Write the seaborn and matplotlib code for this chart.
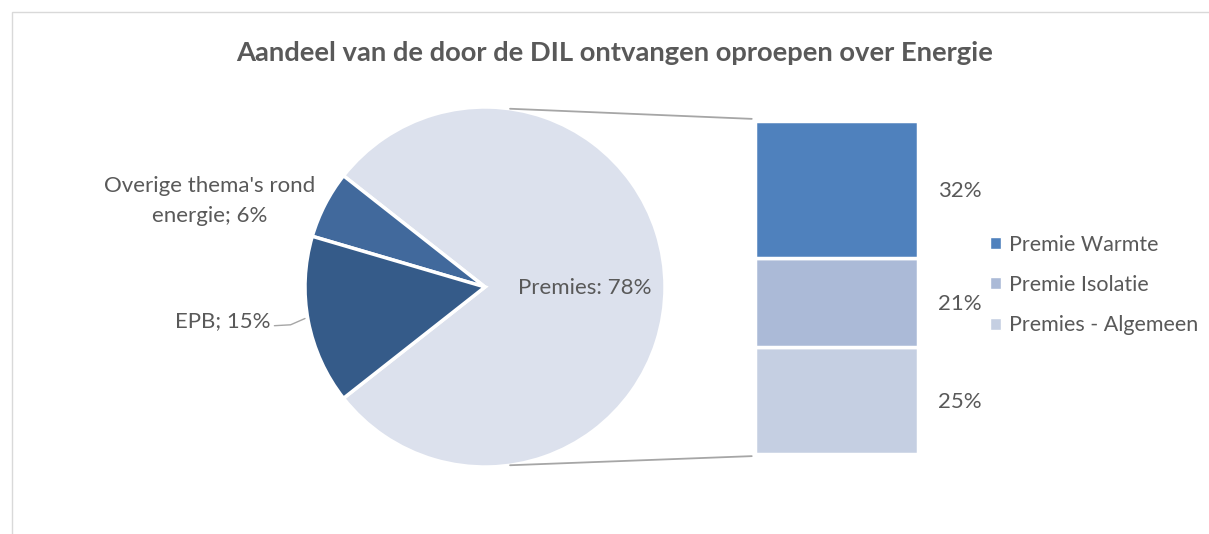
import numpy as np
import matplotlib
matplotlib.use("Agg")
import matplotlib.pyplot as plt
from matplotlib.patches import ConnectionPatch, Patch, Rectangle
import seaborn as sns

# data
pie_labels = ["Premies", "Overige thema's rond\nenergie", "EPB"]
pie_values = [78, 6, 15]
pie_colors = ["#DCE1ED", "#41699C", "#355B89"]

bar_labels = ["Premies - Algemeen", "Premie Isolatie", "Premie Warmte"]  # bottom -> top
bar_values = [25, 21, 32]
bar_colors = ["#C5CFE2", "#ABBAD7", "#4F81BD"]

title = "Aandeel van de door de DIL ontvangen oproepen over Energie"

sns.set_theme(style="white")
plt.rcParams["font.family"] = ["Lato", "DejaVu Sans"]
txt = "#595959"
fs = 16

W, H = 1209, 534
fig = plt.figure(figsize=(W / 100, H / 100), dpi=100)

# chart frame (top and left border visible)
fig.patches.append(Rectangle((12 / W, -0.2), 1.2, (H - 12) / H + 0.2,
                             transform=fig.transFigure, fill=False,
                             edgecolor="#D9D9D9", linewidth=1))

fig.text(615 / W, 1 - 53 / H, title, ha="center", va="center",
         fontsize=19.7, fontweight="bold", color=txt)

# pie
cx, cy, r = 485, H - 287, 180
ax_pie = fig.add_axes([(cx - r) / W, (cy - r) / H, 2 * r / W, 2 * r / H])
start = -360 * pie_values[0] / sum(pie_values) / 2
wedges, _ = ax_pie.pie(pie_values, colors=pie_colors, startangle=start,
                       counterclock=True, radius=1,
                       wedgeprops=dict(edgecolor="white", linewidth=2.5))
ax_pie.set_xlim(-1, 1)
ax_pie.set_ylim(-1, 1)
ax_pie.set_aspect("auto")
ax_pie.axis("off")

ax_pie.text(0.555, -0.005, f"{pie_labels[0]}: {pie_values[0]}%", ha="center",
            va="center", fontsize=fs, color=txt)
ax_pie.text(-1.53, 0.48, f"{pie_labels[1]}; {pie_values[1]}%", ha="center",
            va="center", fontsize=fs, color=txt, linespacing=1.62)
ax_pie.text(-1.19, -0.19, f"{pie_labels[2]}; {pie_values[2]}%", ha="right",
            va="center", fontsize=fs, color=txt)
ax_pie.plot([-1.17, -1.08, -1.0], [-0.215, -0.21, -0.175], color="#A6A6A6",
            linewidth=1, clip_on=False)

# stacked bar
bx0, bx1, by0, by1 = 755, 918, H - 454, H - 121
ax_bar = fig.add_axes([bx0 / W, by0 / H, (bx1 - bx0) / W, (by1 - by0) / H])
bottom = 0
for lab, val, col in zip(bar_labels, bar_values, bar_colors):
    ax_bar.bar(0, val, width=1, bottom=bottom, color=col, edgecolor="white",
               linewidth=2.5, label=lab)
    ax_bar.text(1.12, bottom + val / 2 - 0.4, f"{val}%",
                transform=ax_bar.get_yaxis_transform(),
                ha="left", va="center", fontsize=fs, color=txt)
    bottom += val
ax_bar.set_xlim(-0.5, 0.5)
ax_bar.set_ylim(0, bottom)
ax_bar.axis("off")

# connector lines
for sgn, yb in [(1, bottom), (-1, 0)]:
    ang = np.deg2rad(82 * sgn)
    con = ConnectionPatch(xyA=(np.cos(ang), np.sin(ang)), coordsA=ax_pie.transData,
                          xyB=(-0.52, yb + sgn * 0.5), coordsB=ax_bar.transData,
                          color="#A6A6A6", linewidth=1.3)
    fig.add_artist(con)

handles = [Patch(facecolor=c, label=l) for l, c in zip(bar_labels, bar_colors)][::-1]
fig.legend(handles=handles, loc="center left", bbox_to_anchor=(990 / W, (H - 285) / H),
           frameon=False, fontsize=15.5, handlelength=0.5, handleheight=0.5,
           handletextpad=0.4, labelspacing=0.95, labelcolor=txt, borderaxespad=0,
           borderpad=0)

fig.savefig("out.png", dpi=100)
